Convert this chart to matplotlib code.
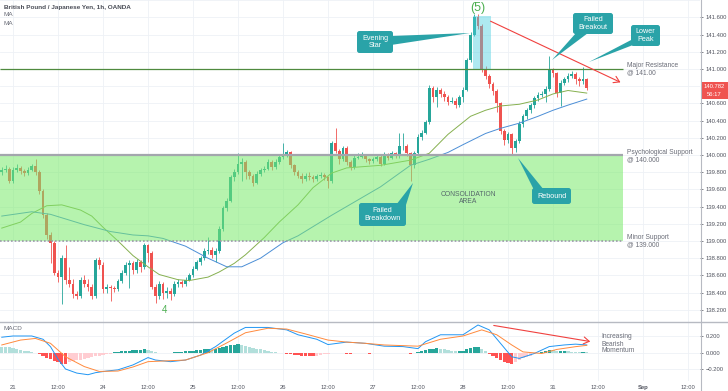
import numpy as np
import matplotlib
matplotlib.use("Agg")
import matplotlib.pyplot as plt
from matplotlib.patches import Rectangle, FancyBboxPatch, Polygon

plt.rcParams['font.family'] = ['Liberation Sans', 'DejaVu Sans']

# ---------------- data (hourly bars, index 0 = Aug 21 00:00) ----------------
first_bar = -3
first_open = 139.80
closes = [139.82, 139.84, 139.70, 139.83, 139.85, 139.81, 139.79, 139.83, 139.87, 139.80,
          139.58, 139.30, 139.07, 138.98, 138.63, 138.58, 138.80, 138.55, 138.50, 138.38,
          138.36, 138.55, 138.50, 138.46, 138.36, 138.78, 138.72, 138.44, 138.46, 138.45,
          138.44, 138.53, 138.63, 138.72, 138.74, 138.66, 138.76, 138.70, 138.95, 138.86,
          138.47, 138.36, 138.50, 138.40, 138.42, 138.38, 138.50, 138.52, 138.50, 138.55,
          138.60, 138.68, 138.75, 138.80, 138.88, 138.90, 138.84, 138.88, 139.14, 139.38,
          139.47, 139.74, 139.80, 139.90, 139.92, 139.80, 139.76, 139.68, 139.78, 139.82,
          139.84, 139.92, 139.86, 139.92, 139.98, 140.01, 140.03, 139.88, 139.80, 139.76,
          139.72, 139.76, 139.74, 139.72, 139.75, 139.77, 139.74, 139.70, 140.14, 140.05,
          139.95, 140.08, 139.92, 139.86, 139.97, 139.98, 139.99, 139.95, 139.93, 139.95,
          139.98, 139.90, 140.00, 139.97, 140.02, 139.99, 140.10, 140.11, 140.02, 139.88,
          140.02, 140.21, 140.26, 140.38, 140.78, 140.68, 140.76, 140.71, 140.67, 140.62,
          140.63, 140.58, 140.67, 140.76, 141.10, 141.40, 141.61, 141.50, 141.00, 140.92,
          140.82, 140.74, 140.60, 140.28, 140.17, 140.24, 140.08, 140.16, 140.36, 140.45,
          140.52, 140.58, 140.66, 140.70, 140.71, 140.77, 140.99, 140.95, 140.72, 140.84,
          140.88, 140.92, 140.94, 140.88, 140.86, 140.88, 140.78]
highs = [139.86, 139.88, 139.86, 139.86, 139.90, 139.87, 139.84, 139.86, 139.90, 139.95,
         139.82, 139.60, 139.33, 139.10, 139.00, 138.66, 138.84, 138.95, 138.70, 138.56,
         138.42, 138.58, 138.60, 138.56, 138.50, 138.80, 138.81, 138.75, 138.50, 138.49,
         138.48, 138.56, 138.66, 138.75, 138.78, 138.77, 138.79, 138.78, 138.98, 138.97,
         138.88, 138.50, 138.54, 138.52, 138.46, 138.45, 138.54, 138.56, 138.55, 138.58,
         138.63, 138.71, 138.78, 138.83, 138.92, 139.05, 138.93, 138.92, 139.17, 139.41,
         139.50, 139.77, 139.84, 140.02, 139.96, 139.94, 139.83, 139.78, 139.81, 139.85,
         139.87, 139.95, 139.94, 139.95, 140.01, 140.14, 140.06, 140.05, 139.90, 139.83,
         139.79, 139.79, 139.80, 139.77, 139.78, 139.80, 139.79, 139.76, 140.16, 140.31,
         140.07, 140.11, 140.10, 139.94, 140.00, 140.02, 140.03, 140.01, 139.97, 139.98,
         140.01, 140.00, 140.03, 140.02, 140.05, 140.04, 140.25, 140.25, 140.13, 140.04,
         140.05, 140.24, 140.29, 140.41, 140.81, 140.80, 140.79, 140.78, 140.74, 140.70,
         140.67, 140.66, 140.70, 140.79, 141.13, 141.43, 141.64, 141.64, 141.52, 141.03,
         140.94, 140.85, 140.77, 140.62, 140.30, 140.27, 140.26, 140.19, 140.39, 140.48,
         140.55, 140.61, 140.69, 140.73, 140.74, 140.80, 141.15, 141.01, 140.97, 140.87,
         140.91, 140.95, 140.98, 140.96, 140.91, 141.02, 140.90]
lows = [139.77, 139.80, 139.68, 139.68, 139.80, 139.78, 139.76, 139.77, 139.81, 139.77,
        139.55, 139.27, 139.02, 138.74, 138.60, 138.52, 138.27, 138.50, 138.46, 138.34,
        138.32, 138.34, 138.46, 138.42, 138.33, 138.34, 138.68, 138.40, 138.40, 138.30,
        138.41, 138.42, 138.51, 138.60, 138.45, 138.62, 138.63, 138.64, 138.68, 138.75,
        138.44, 138.28, 138.33, 138.32, 138.34, 138.31, 138.36, 138.47, 138.46, 138.48,
        138.53, 138.58, 138.66, 138.72, 138.78, 138.85, 138.80, 138.76, 138.86, 139.12,
        139.35, 139.45, 139.70, 139.78, 139.70, 139.72, 139.72, 139.64, 139.66, 139.75,
        139.80, 139.82, 139.83, 139.84, 139.90, 139.95, 139.98, 139.85, 139.77, 139.73,
        139.68, 139.70, 139.71, 139.69, 139.70, 139.73, 139.71, 139.62, 139.68, 140.02,
        139.90, 139.93, 139.88, 139.82, 139.84, 139.95, 139.96, 139.92, 139.90, 139.91,
        139.93, 139.87, 139.88, 139.94, 139.95, 139.96, 139.97, 140.06, 139.99, 139.70,
        139.85, 140.00, 140.17, 140.24, 140.36, 140.62, 140.56, 140.68, 140.63, 140.58,
        140.60, 140.55, 140.56, 140.62, 140.74, 141.08, 141.38, 141.46, 140.97, 140.88,
        140.78, 140.70, 140.50, 140.24, 140.12, 140.14, 140.01, 140.03, 140.14, 140.33,
        140.42, 140.49, 140.55, 140.63, 140.67, 140.62, 140.74, 140.91, 140.68, 140.57,
        140.81, 140.85, 140.89, 140.83, 140.80, 140.83, 140.75]

# moving averages, read at sample bars
ma_fast_idx = [-3, 2, 5, 9, 13, 18, 21, 24, 28, 32, 36, 39, 44, 47, 52, 55, 59, 62, 67, 71,
               76, 80, 85, 89, 98, 106, 111, 116, 122, 126, 130, 135, 140, 144, 148, 153]
ma_fast_val = [139.15, 139.22, 139.32, 139.41, 139.42, 139.36, 139.29, 139.16, 139.00, 138.83,
               138.70, 138.61, 138.55, 138.54, 138.58, 138.64, 138.74, 138.84, 139.04, 139.22,
               139.42, 139.62, 139.79, 139.85, 139.88, 139.94, 140.02, 140.24, 140.45, 140.52,
               140.57, 140.59, 140.64, 140.71, 140.75, 140.72]
ma_slow_idx = [-3, 5, 10, 19, 26, 32, 36, 40, 46, 52, 57, 61, 66, 72, 76, 85, 98, 106, 111, 116,
               120, 126, 130, 135, 140, 144, 148, 153]
ma_slow_val = [139.29, 139.34, 139.31, 139.19, 139.11, 139.07, 139.06, 139.03, 138.94, 138.80,
               138.70, 138.70, 138.80, 138.98, 139.06, 139.30, 139.63, 139.88, 139.95, 140.03,
               140.12, 140.25, 140.31, 140.37, 140.45, 140.52, 140.58, 140.65]

# MACD pane
macd_idx = [-3, 0, 5, 8, 10, 12, 14, 17, 20, 22, 25, 28, 32, 36, 38, 42, 46, 50, 54, 59,
            62, 68, 73, 76, 81, 84, 89, 94, 99, 104, 108, 110, 114, 120, 124, 127, 130, 133, 135, 139,
            143, 147, 150, 153]
macd_val = [0.19, 0.205, 0.205, 0.165, 0.074, -0.08, -0.20, -0.25, -0.27, -0.245,
            -0.225, -0.21, -0.15, -0.06, -0.09, -0.11, -0.09, -0.03, 0.074, 0.24,
            0.31, 0.31, 0.28, 0.22, 0.165, 0.10, 0.13, 0.115, 0.08, 0.075,
            0.05, 0.135, 0.22, 0.22, 0.34, 0.28, 0.115, -0.05, -0.07, -0.01,
            0.075, 0.095, 0.105, 0.095]
signal_idx = [-3, 2, 6, 10, 14, 19, 23, 28, 32, 36, 41, 46, 52, 57, 62, 68, 73, 78, 84, 89,
              94, 99, 108, 114, 120, 125, 129, 133, 136, 141, 145, 150, 153]
signal_val = [0.095, 0.155, 0.175, 0.115, -0.05, -0.17, -0.23, -0.225, -0.175, -0.11,
              -0.10, -0.09, 0.0, 0.12, 0.245, 0.30, 0.29, 0.23, 0.155, 0.13,
              0.115, 0.095, 0.08, 0.165, 0.205, 0.28, 0.22, 0.095, 0.01, -0.01,
              0.04, 0.074, 0.09]
hist = [0.075, 0.07, 0.065, 0.055, 0.045, 0.035, 0.025, 0.015, 0.005, -0.005,
        -0.02, -0.04, -0.06, -0.08, -0.10, -0.12, -0.135, -0.14, -0.12, -0.105,
        -0.095, -0.085, -0.075, -0.065, -0.055, -0.045, -0.035, -0.03, -0.02, -0.01,
        0.005, 0.01, 0.015, 0.02, 0.025, 0.03, 0.032, 0.035, 0.045, 0.035,
        0.02, 0.01, 0.002, -0.005, -0.008, -0.004, 0.003, 0.008, 0.012, 0.016,
        0.02, 0.024, 0.03, 0.035, 0.04, 0.045, 0.04, 0.045, 0.06, 0.075,
        0.085, 0.095, 0.10, 0.105, 0.095, 0.085, 0.075, 0.06, 0.05, 0.04,
        0.03, 0.022, 0.012, 0.005, -0.003, -0.006, -0.01, -0.018, -0.026, -0.032,
        -0.036, -0.038, -0.04, -0.042, -0.035, -0.028, -0.02, -0.015, -0.005, -0.004,
        -0.008, -0.006, -0.01, -0.012, -0.008, -0.005, -0.004, -0.006, -0.01, -0.008,
        -0.005, -0.007, -0.004, -0.003, -0.002, -0.004, -0.002, -0.003, -0.006, -0.012,
        -0.008, 0.01, 0.025, 0.035, 0.048, 0.05, 0.052, 0.048, 0.04, 0.03,
        0.022, 0.018, 0.02, 0.025, 0.04, 0.055, 0.065, 0.068, 0.04, 0.02,
        -0.01, -0.04, -0.06, -0.09, -0.11, -0.125, -0.14, -0.11, -0.09, -0.07,
        -0.05, -0.035, -0.02, -0.005, 0.01, 0.018, 0.03, 0.028, 0.015, 0.02,
        0.025, 0.018, 0.012, 0.01, 0.008, 0.01, 0.008]

levels = {'resistance': 141.00, 'psych': 140.00, 'minor': 139.00}
price_ticks = [138.2, 138.4, 138.6, 138.8, 139.0, 139.2, 139.4, 139.6, 139.8,
               140.0, 140.2, 140.4, 140.6, 141.0, 141.2, 141.4, 141.6]
last_price_label = '140.782'
countdown_label = '56:17'
time_labels = ['21', '12:00', '24', '12:00', '25', '12:00', '26', '12:00',
               '27', '12:00', '28', '12:00', '31', '12:00', 'Sep', '12:00']
time_label_bars = [0, 12, 24, 36, 48, 60, 72, 84, 96, 108, 120, 132, 144, 156, 168, 180]

# ---------------- figure ----------------
W, H = 728, 391
fig = plt.figure(figsize=(W / 100, H / 100), dpi=100)
fig.patch.set_facecolor('white')

def fr(x0, y0, x1, y1):
    return [x0 / W, 1 - y1 / H, (x1 - x0) / W, (y1 - y0) / H]

ax = fig.add_axes(fr(0, 0, 700, 322))
ax2 = fig.add_axes(fr(0, 322, 700, 381))

XL = (-13 / 3.75, (700 - 13) / 3.75)
UP, DN = '#26a69a', '#ef5350'
GRID = '#eef1f6'
TXT = '#50535e'

closes_a = np.array(closes)
highs_a = np.array(highs)
lows_a = np.array(lows)
idx = np.arange(first_bar, first_bar + len(closes_a))
opens_a = np.r_[first_open, closes_a[:-1]]
up = closes_a >= opens_a
cols = np.where(up, UP, DN)

ax.vlines(idx, lows_a, highs_a, colors=cols, lw=0.6, zorder=2)
body = np.maximum(np.abs(closes_a - opens_a), 0.008)
ax.bar(idx, body, bottom=np.minimum(opens_a, closes_a), width=0.72, color=cols,
       lw=0, zorder=3)

ax.plot(ma_fast_idx, ma_fast_val, color='#86b04f', lw=0.7, zorder=3.5)
ax.plot(ma_slow_idx, ma_slow_val, color='#4b8ed6', lw=0.7, zorder=3.5)

# zones & levels
zone_right = (623 - 13) / 3.75
ax.add_patch(Rectangle((XL[0], levels['minor']), zone_right - XL[0],
                       levels['psych'] - levels['minor'], facecolor='#7bea6c',
                       alpha=0.55, lw=0, zorder=4))
ax.hlines(levels['psych'], XL[0], zone_right, color='#a3a6ad', lw=1.6, zorder=5)
ax.hlines(levels['minor'], XL[0], zone_right, color='#9a9da5', lw=1.2,
          linestyles=(0, (1, 1.2)), zorder=5)
ax.hlines(levels['resistance'], XL[0], zone_right, color='#4f8a3e', lw=0.9, zorder=5)
ax.add_patch(Rectangle(((473 - 13) / 3.75, 141.005), 18 / 3.75, 0.61,
                       facecolor='#4dd0e1', alpha=0.45, lw=0, zorder=4))

ax.set_xlim(*XL)
ax.set_ylim(140 - 167 / 86, 140 + 155 / 86)
ax.set_yticks(price_ticks)
ax.set_yticklabels([f'{v:.3f}' for v in price_ticks])
ax.yaxis.tick_right()
ax.tick_params(axis='y', labelsize=4.2, colors=TXT, length=2, width=0.5, pad=2)
ax.set_xticks(time_label_bars)
ax.tick_params(axis='x', length=0, labelbottom=False)
ax.grid(True, axis='x', color=GRID, lw=0.6, zorder=0)
for v in np.arange(138.2, 141.81, 0.2):
    ax.axhline(v, color=GRID, lw=0.6, zorder=0)
for s in ax.spines.values():
    s.set_visible(False)

# MACD pane
hist_a = np.array(hist)
prev = np.r_[hist_a[0], hist_a[:-1]]
hcols = []
for h, p in zip(hist_a, prev):
    if h >= 0:
        hcols.append('#26a69a' if h > p else '#b2dfdb')
    else:
        hcols.append('#ff5252' if h < p else '#ffcdd2')
ax2.bar(idx, hist_a, width=0.85, color=hcols, lw=0, zorder=2)
ax2.plot(macd_idx, macd_val, color='#2196f3', lw=0.7, zorder=3)
ax2.plot(signal_idx, signal_val, color='#ff8a3d', lw=0.7, zorder=3)
ax2.set_xlim(*XL)
ax2.set_ylim(-(381 - 352.7) / 81.5, (352.7 - 322) / 81.5)
ax2.set_yticks([-0.2, 0.0, 0.2])
ax2.set_yticklabels(['\u22120.200', '0.000', '0.200'])
ax2.yaxis.tick_right()
ax2.tick_params(axis='y', labelsize=4.2, colors=TXT, length=2, width=0.5, pad=2)
ax2.set_xticks(time_label_bars)
ax2.set_xticklabels(time_labels)
ax2.tick_params(axis='x', labelsize=4.2, colors=TXT, length=0, pad=3)
for lab in ax2.get_xticklabels():
    if lab.get_text() == 'Sep':
        lab.set_fontweight('bold')
ax2.grid(True, color=GRID, lw=0.6, zorder=0)
for s in ax2.spines.values():
    s.set_visible(False)

# ---------------- overlay in pixel coordinates ----------------
ov = fig.add_axes([0, 0, 1, 1], zorder=10)
ov.set_xlim(0, W)
ov.set_ylim(H, 0)
ov.axis('off')
ov.patch.set_alpha(0)

ov.plot([0, W], [322, 322], color='#b7bac2', lw=1.0)
ov.plot([700.5, 700.5], [0, H], color='#b7bac2', lw=0.8)

ov.text(4, 7, 'British Pound / Japanese Yen, 1h, OANDA', fontsize=4.6,
        fontweight='bold', color='#4a4d57', va='center')
ov.text(4, 15, 'MA', fontsize=4.6, color='#6a6d78', va='center')
ov.text(4, 23.3, 'MA', fontsize=4.6, color='#6a6d78', va='center')
ov.text(4, 329, 'MACD', fontsize=4.6, color='#6a6d78', va='center')

ov.text(478, 8, '(5)', fontsize=9, color='#4caf50', ha='center', va='center')
ov.text(164, 310, '4', fontsize=7, color='#4caf50', ha='center', va='center')

LBL = '#6a6d78'
ov.text(627, 62, 'Major Resistance\n@ 141.00', fontsize=4.8, color=LBL,
        va='top', linespacing=1.0)
ov.text(627, 149, 'Psychological Support\n@ 140.000', fontsize=4.8, color=LBL,
        va='top', linespacing=1.0)
ov.text(627, 234, 'Minor Support\n@ 139.000', fontsize=4.8, color=LBL,
        va='top', linespacing=1.0)
ov.text(468, 198, 'CONSOLIDATION\nAREA', fontsize=4.9, color='#56686b',
        ha='center', va='center', linespacing=1.1)
ov.text(601, 344, 'Increasing\nBearish\nMomentum', fontsize=4.8, color=LBL,
        va='center', linespacing=1.0)

ov.annotate('', xy=(623, 83.5), xytext=(488, 20),
            arrowprops=dict(arrowstyle='->,head_length=0.4,head_width=0.25',
                            color='#f0413f', lw=0.8))
ov.annotate('', xy=(593, 342), xytext=(491, 325),
            arrowprops=dict(arrowstyle='->,head_length=0.4,head_width=0.25',
                            color='#f0413f', lw=0.8))

BOX = '#2aa3a8'
def callout(x0, y0, x1, y1, base, tip, text):
    ov.add_patch(Polygon([base[0], base[1], tip], closed=True, facecolor=BOX,
                         edgecolor='none', zorder=11))
    ov.add_patch(FancyBboxPatch((x0, y0), x1 - x0, y1 - y0,
                                boxstyle='round,pad=0,rounding_size=2.5',
                                facecolor=BOX, edgecolor='none', zorder=11))
    ov.text((x0 + x1) / 2, (y0 + y1) / 2, text, fontsize=5.2, color='white',
            ha='center', va='center', linespacing=1.1, zorder=12)

callout(357, 31, 393, 53, ((391, 36), (391, 45)), (470, 33), 'Evening\nStar')
callout(573, 13, 613, 34, ((576, 33), (588, 33)), (552, 60), 'Failed\nBreakout')
callout(631, 25, 660, 46, ((633, 39), (633, 45)), (589, 62), 'Lower\nPeak')
callout(359, 203, 406, 226, ((396, 205), (405, 208)), (413, 183), 'Failed\nBreakdown')
callout(532, 188, 571, 204, ((534, 190), (544, 190)), (518, 158), 'Rebound')

# last price tags (cover the 140.800 axis slot, as in the source chart)
ov.add_patch(Rectangle((701, 82), 27, 9, facecolor='#ef5350', edgecolor='none'))
ov.text(714.5, 86.5, last_price_label, fontsize=4.2, color='white', ha='center', va='center')
ov.add_patch(Rectangle((701, 91), 27, 8, facecolor='#ef5350', edgecolor='none'))
ov.text(714.5, 95, countdown_label, fontsize=4.2, color='white', ha='center', va='center')

fig.savefig('out.png', dpi=100)
